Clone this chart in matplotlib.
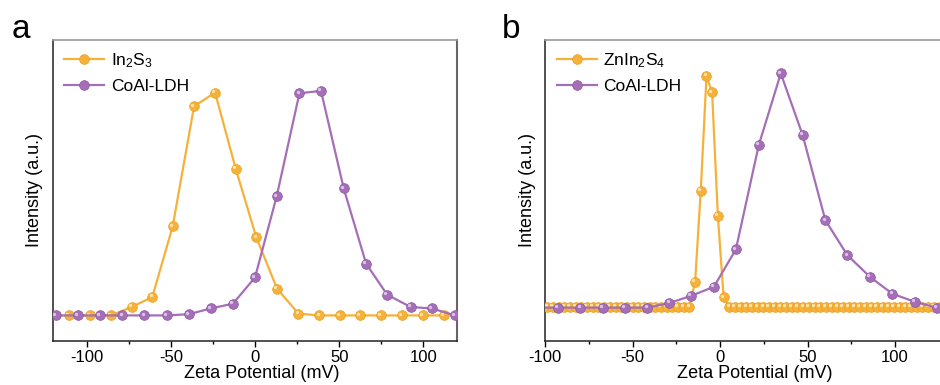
import matplotlib
matplotlib.use("Agg")
import matplotlib.pyplot as plt
from matplotlib.transforms import ScaledTranslation

plt.rcParams['font.family'] = ['Liberation Sans', 'DejaVu Sans']
plt.rcParams['mathtext.fontset'] = 'custom'
plt.rcParams['mathtext.rm'] = 'Liberation Sans'
plt.rcParams['mathtext.it'] = 'Liberation Sans:italic'
plt.rcParams['mathtext.default'] = 'regular'
plt.rcParams['axes.unicode_minus'] = False

# panel a data (zeta potential in mV, intensity in a.u.)
a_in2s3_x = [-110.7, -98.0, -85.5, -73.2, -61.0, -48.9, -36.2, -23.7, -11.5, 0.8,
             13.1, 25.8, 38.2, 50.3, 62.4, 74.8, 87.3, 99.8, 112.1]
a_in2s3_y = [8.5, 8.5, 8.5, 11.3, 14.6, 38.1, 78.0, 82.5, 57.3, 34.4,
             17.4, 9.1, 8.5, 8.5, 8.5, 8.5, 8.5, 8.5, 8.5]
a_ldh_x = [-118.3, -105.2, -92.2, -78.8, -65.8, -52.5, -39.4, -26.3, -13.1, 0.0,
           12.9, 26.4, 39.2, 52.7, 66.0, 78.5, 92.4, 105.2, 118.7]
a_ldh_y = [8.5, 8.5, 8.5, 8.5, 8.5, 8.5, 8.9, 10.8, 12.4, 21.1,
           48.1, 82.3, 83.1, 50.7, 25.7, 15.4, 11.3, 10.8, 8.5]

# panel b data
b_zis_x = [-98.8, -95.6, -92.3, -89.1, -85.8, -82.6, -79.3, -76.1, -72.8, -69.6,
           -66.3, -63.1, -59.8, -56.6, -53.3, -50.1, -46.8, -43.6, -40.3, -37.1,
           -33.8, -30.6, -27.3, -24.1, -20.8, -17.6, -14.3, -11.1, -7.8, -4.6,
           -1.3, 2.0, 5.2, 8.5, 11.7, 15.0, 18.2, 21.5, 24.7, 28.0,
           31.2, 34.5, 37.7, 41.0, 44.2, 47.5, 50.7, 54.0, 57.2, 60.5,
           63.7, 67.0, 70.2, 73.5, 76.7, 80.0, 83.2, 86.5, 89.7, 93.0,
           96.2, 99.5, 102.7, 106.0, 109.2, 112.5, 115.7, 119.0, 122.2, 125.5,
           128.7]
b_zis_y = [11.3, 11.3, 11.3, 11.3, 11.3, 11.3, 11.3, 11.3, 11.3, 11.3,
           11.3, 11.3, 11.3, 11.3, 11.3, 11.3, 11.3, 11.3, 11.3, 11.3,
           11.3, 11.3, 11.3, 11.3, 11.3, 11.3, 19.7, 49.8, 88.0, 82.6,
           41.6, 14.5, 11.3, 11.3, 11.3, 11.3, 11.3, 11.3, 11.3, 11.3,
           11.3, 11.3, 11.3, 11.3, 11.3, 11.3, 11.3, 11.3, 11.3, 11.3,
           11.3, 11.3, 11.3, 11.3, 11.3, 11.3, 11.3, 11.3, 11.3, 11.3,
           11.3, 11.3, 11.3, 11.3, 11.3, 11.3, 11.3, 11.3, 11.3, 11.3,
           11.3]
b_ldh_x = [-105.9, -93.0, -80.0, -67.2, -54.7, -41.7, -29.1, -16.6, -3.6, 9.0,
           22.1, 34.7, 47.2, 60.2, 72.8, 85.7, 98.5, 111.4, 123.8]
b_ldh_y = [11.1, 11.1, 11.1, 11.1, 11.1, 11.1, 12.6, 15.0, 18.0, 30.4,
           65.1, 88.9, 68.4, 40.1, 28.5, 21.3, 15.7, 13.0, 11.1]

orange = '#F6B13A'
orange_edge = '#E9A020'
orange_hi = '#FDE3A8'
purple = '#A46FB7'
purple_edge = '#8E58A2'
purple_hi = '#DCC3E6'

fig = plt.figure(figsize=(9.4, 3.85), dpi=100)
ax_a = fig.add_axes([53 / 940, 44 / 385, 404 / 940, 301 / 385])
ax_b = fig.add_axes([545.3 / 940, 44 / 385, 396.7 / 940, 301 / 385])


def ball_series(ax, x, y, color, edge, hi, label, z):
    ax.plot(x, y, color=color, lw=1.6, marker='o', ms=7, mfc=color, mec=edge,
            mew=0.5, label=label, zorder=z, clip_on=True)
    # small highlight to mimic the shaded spheres
    off = ScaledTranslation(-1.2 / 72, 1.2 / 72, fig.dpi_scale_trans)
    ax.plot(x, y, ls='none', marker='o', ms=2.4, mfc=hi, mec='none',
            transform=ax.transData + off, zorder=z + 0.1, clip_on=True)


ball_series(ax_a, a_in2s3_x, a_in2s3_y, orange, orange_edge, orange_hi, 'In$_2$S$_3$', 3)
ball_series(ax_a, a_ldh_x, a_ldh_y, purple, purple_edge, purple_hi, 'CoAl-LDH', 4)
ball_series(ax_b, b_zis_x, b_zis_y, orange, orange_edge, orange_hi, 'ZnIn$_2$S$_4$', 3)
ball_series(ax_b, b_ldh_x, b_ldh_y, purple, purple_edge, purple_hi, 'CoAl-LDH', 4)

ax_a.set_xlim(-120, 120)
ax_b.set_xlim(-100, 126.9)

for ax, lab, lx, xc in [(ax_a, 'a', 12, 0.517), (ax_b, 'b', 502, 0.528)]:
    ax.set_ylim(0, 100)
    ax.set_yticks([])
    ax.set_xticks([-100, -50, 0, 50, 100])
    ax.set_xticks([-75, -25, 25, 75], minor=True)
    ax.tick_params(axis='x', which='major', direction='out', length=4, width=1,
                   labelsize=12, pad=2.5)
    ax.tick_params(axis='x', which='minor', direction='out', length=2.5, width=1)
    ax.spines['left'].set_color('#222222')
    ax.spines['bottom'].set_color('#222222')
    ax.spines['left'].set_linewidth(1.1)
    ax.spines['bottom'].set_linewidth(1.1)
    ax.spines['top'].set_color('#9a9a9a')
    ax.spines['top'].set_linewidth(1.2)
    ax.spines['right'].set_color('#666666')
    ax.spines['right'].set_linewidth(1.5)
    ax.set_xlabel('Zeta Potential (mV)', fontsize=13)
    ax.xaxis.set_label_coords(xc, -0.08)
    ax.set_ylabel('Intensity (a.u.)', fontsize=13)
    ax.yaxis.set_label_coords(-0.024, 0.5)
    ax.legend(loc='upper left', frameon=False, fontsize=12.5, handlelength=2.3,
              handletextpad=0.4, labelspacing=0.5, borderaxespad=0.25,
              borderpad=0.4)
    fig.text(lx / 940, 1 - 38 / 385, lab, fontsize=24, ha='left', va='baseline')

ax_b.spines['right'].set_visible(False)

fig.savefig('out.png', dpi=100)
